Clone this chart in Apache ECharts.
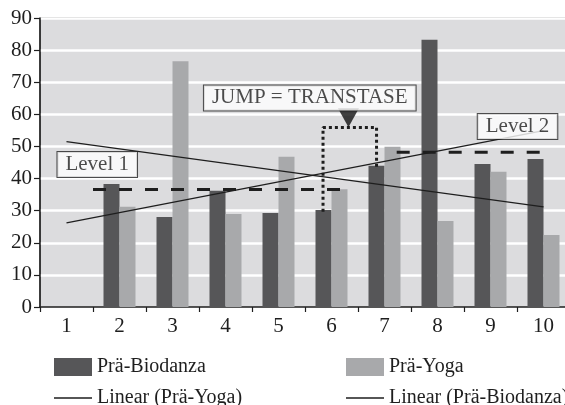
<!DOCTYPE html>
<html>
<head>
<meta charset="utf-8">
<script src="https://cdn.jsdelivr.net/npm/echarts@6/dist/echarts.min.js"></script>
<style>
  html, body { margin: 0; padding: 0; background: #fff; }
  #chart { width: 565px; height: 405px; }
</style>
</head>
<body>
<div id="chart"></div>
<script>
// ---- data ----
const categories = ['1', '2', '3', '4', '5', '6', '7', '8', '9', '10'];
const biodanza = [null, 38.3, 28.0, 36.2, 29.3, 30.2, 44.0, 83.2, 44.5, 46.1];
const yoga = [null, 31.2, 76.5, 29.0, 46.8, 36.7, 49.9, 26.8, 42.1, 22.4];
// trend line endpoints (category number, value)
const trendYoga = [[1, 51.5], [10, 31.2]];
const trendBiodanza = [[1, 26.2], [10, 54.9]];
// level lines and jump path (category number, value)
const level1 = [[1.5, 36.6], [6.28, 36.6]];
const level2 = [[7.23, 48.2], [10.01, 48.2]];
const jumpPath = [[5.84, 29.7], [5.84, 55.9], [6.85, 55.9], [6.85, 43.3]];
const jumpArrow = [[6.32, 58.9]];
const annotationTexts = ['Level 1', 'JUMP = TRANSTASE', 'Level 2'];
const annotationPoints = [[1.58, 44.4], [5.59, 65.1], [9.51, 56.2]];
const yMin = 0, yMax = 90, yStep = 10;

// ---- styles ----
const FONT = 'Liberation Serif';
const INK = '#1e1e1e';
const DARK = '#565658';
const LIGHT = '#a8a9ab';

const chart = echarts.init(document.getElementById('chart'), null, { renderer: 'canvas' });

const legendCommon = {
  orient: 'horizontal',
  padding: 0,
  itemWidth: 38,
  itemHeight: 18,
  selectedMode: false,
  textStyle: { fontFamily: FONT, fontSize: 20, color: INK }
};

chart.setOption({
  animation: false,
  backgroundColor: '#ffffff',
  grid: {
    left: 40, top: 18, width: 530, bottom: 98,
    outerBoundsMode: 'none',
    containLabel: false,
    show: true,
    backgroundColor: '#dcdcde',
    borderColor: '#333',
    borderWidth: 1
  },
  legend: [
    Object.assign({}, legendCommon, { left: 54, top: 357, data: [{ name: 'Prä-Biodanza', icon: 'rect' }] }),
    Object.assign({}, legendCommon, { left: 346, top: 357, data: [{ name: 'Prä-Yoga', icon: 'rect' }] }),
    Object.assign({}, legendCommon, { left: 54, top: 388, itemHeight: 1.5,
      data: [{ name: 'Linear (Prä-Yoga)', icon: 'rect', itemStyle: { color: INK } }] }),
    Object.assign({}, legendCommon, { left: 346, top: 388, itemHeight: 1.5,
      data: [{ name: 'Linear (Prä-Biodanza)', icon: 'rect', itemStyle: { color: INK } }] })
  ],
  xAxis: [
    {
      type: 'category',
      data: categories,
      boundaryGap: true,
      axisLine: { lineStyle: { color: INK, width: 1.5 } },
      axisTick: { show: true, length: 5, interval: 0, lineStyle: { color: INK, width: 1.2 } },
      axisLabel: { interval: 0, margin: 9, fontFamily: FONT, fontSize: 21, color: INK },
      splitLine: { show: false }
    },
    {
      type: 'value',
      min: 0.5, max: 10.5,
      show: false,
      splitLine: { show: false }
    }
  ],
  yAxis: {
    type: 'value',
    min: yMin, max: yMax, interval: yStep,
    axisLine: { show: true, lineStyle: { color: INK, width: 1.5 } },
    axisTick: { show: true, length: 6, lineStyle: { color: INK, width: 1.2 } },
    axisLabel: { margin: 8, fontFamily: FONT, fontSize: 21, color: INK },
    splitLine: { show: true, lineStyle: { color: '#ffffff', width: 2.5 } }
  },
  series: [
    {
      name: 'Prä-Biodanza', type: 'bar', data: biodanza,
      barWidth: 16, barGap: '0%',
      itemStyle: { color: DARK }
    },
    {
      name: 'Prä-Yoga', type: 'bar', data: yoga,
      barWidth: 16, barGap: '0%',
      itemStyle: { color: LIGHT }
    },
    {
      name: 'Linear (Prä-Yoga)', type: 'line', xAxisIndex: 1, data: trendYoga,
      symbol: 'none', lineStyle: { color: INK, width: 1.2 }, itemStyle: { color: INK }, z: 3
    },
    {
      name: 'Linear (Prä-Biodanza)', type: 'line', xAxisIndex: 1, data: trendBiodanza,
      symbol: 'none', lineStyle: { color: INK, width: 1.2 }, itemStyle: { color: INK }, z: 3
    },
    {
      name: 'level1', type: 'line', xAxisIndex: 1, data: level1,
      symbol: 'none', lineStyle: { color: INK, width: 3, type: [13, 13] }, z: 4
    },
    {
      name: 'level2', type: 'line', xAxisIndex: 1, data: level2,
      symbol: 'none', lineStyle: { color: INK, width: 3, type: [13, 13] }, z: 4
    },
    {
      name: 'jump', type: 'line', xAxisIndex: 1, data: jumpPath,
      symbol: 'none', lineStyle: { color: INK, width: 3, type: [3, 3] }, z: 4
    },
    {
      name: 'arrow', type: 'scatter', xAxisIndex: 1, data: jumpArrow,
      symbol: 'triangle', symbolRotate: 180, symbolSize: [21, 19],
      itemStyle: { color: '#111' }, z: 6
    },
    {
      name: 'annotations', type: 'scatter', xAxisIndex: 1,
      data: annotationPoints.map((p, i) => ({ name: annotationTexts[i], value: p })),
      symbolSize: 0, z: 7,
      label: {
        show: true, position: 'inside',
        formatter: p => p.name,
        fontFamily: FONT, fontSize: 21, color: INK, lineHeight: 22,
        backgroundColor: '#ffffff', borderColor: '#222', borderWidth: 1,
        padding: [2, 8, 1, 8]
      }
    }
  ]
});
</script>
</body>
</html>
